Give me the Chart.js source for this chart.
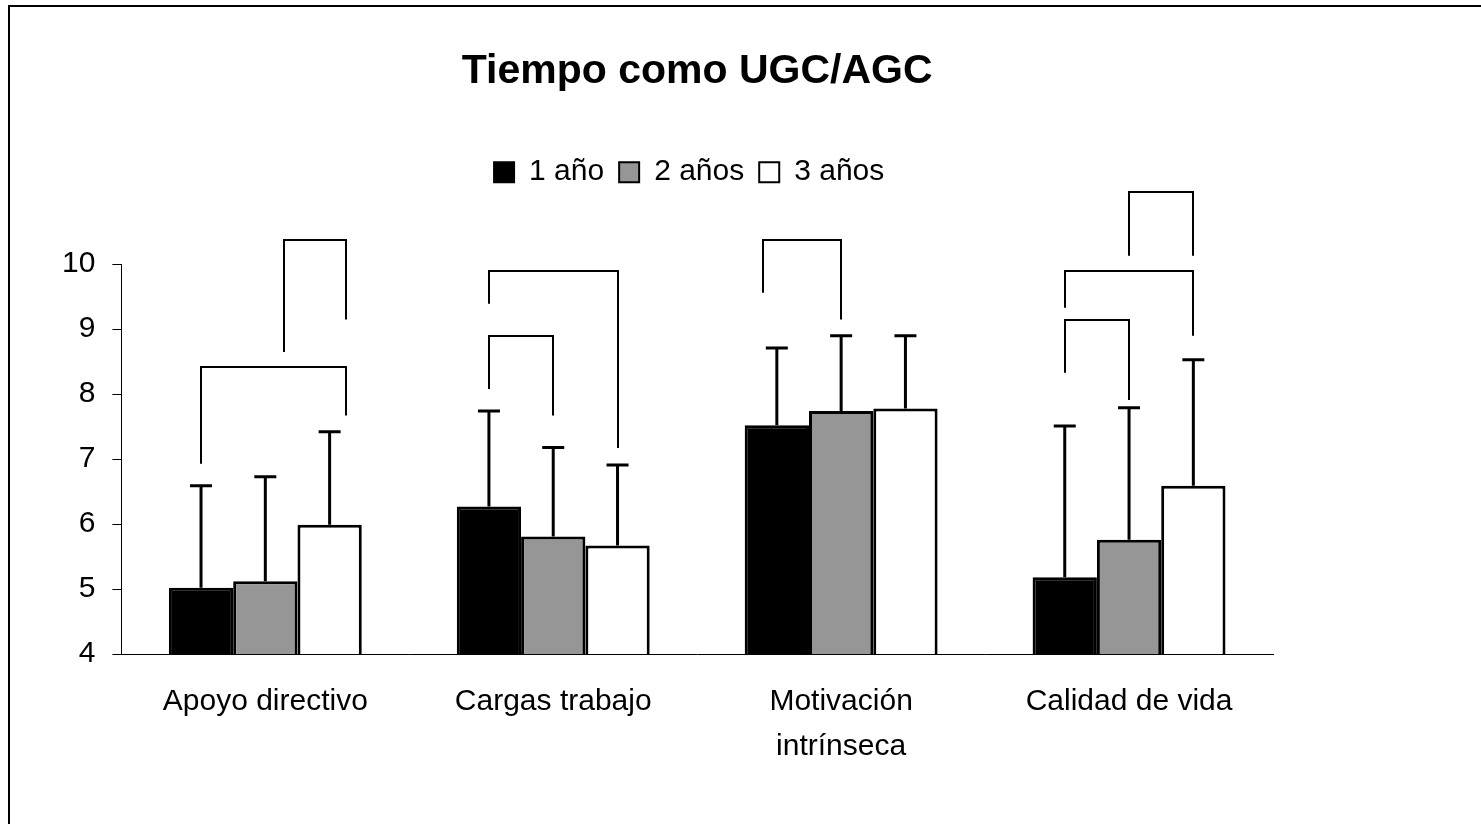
<!DOCTYPE html>
<html lang="es">
  <head>
    <meta charset="utf-8" />
    <title>Tiempo como UGC/AGC</title>
    <script src="https://cdn.jsdelivr.net/npm/chart.js"></script>
    <style>
      html, body { margin: 0; padding: 0; background: #fff; overflow: hidden; }
      #wrap { position: relative; width: 1481px; height: 824px; }
      #frame {
        position: absolute; left: 8px; top: 5px; width: 1600px; height: 1000px;
        border: 2px solid #000; pointer-events: none;
      }
    </style>
  </head>
  <body>
    <div id="wrap">
      <canvas id="myChart"></canvas>
      <div id="frame"></div>
    </div>
    <script>
      const categories = ["Apoyo directivo", "Cargas trabajo", ["Motivación", "intrínseca"], "Calidad de vida"];
      const seriesNames = ["1 año", "2 años", "3 años"];

      // medias
      const ano1 = [5.02, 6.27, 7.52, 5.18];
      const ano2 = [5.12, 5.81, 7.74, 5.76];
      const ano3 = [5.99, 5.67, 7.78, 6.59];

      // desviaciones (solo se dibuja la parte superior)
      const sd1 = [1.57, 1.47, 1.19, 2.33];
      const sd2 = [1.61, 1.37, 1.16, 2.03];
      const sd3 = [1.43, 1.24, 1.12, 1.94];

      const yTicks = [4, 5, 6, 7, 8, 9, 10];

      // corchetes de significacion: [categoria, serie izq, serie der, fin izq, fin der, altura]
      const brackets = [
        [0, 0, 2.26, 6.93, 7.67, 8.42],
        [0, 1.29, 2.26, 8.65, 9.15, 10.38],
        [1, 0, 1, 8.08, 7.67, 8.9],
        [1, 0, 2, 9.39, 7.17, 9.89],
        [2, -0.22, 1, 9.56, 9.15, 10.37],
        [3, 0, 1, 8.33, 7.91, 9.14],
        [3, 0, 2, 9.33, 8.9, 9.89],
        [3, 1, 2, 10.13, 10.13, 11.11],
      ];

      const fills = ["#000000", "#969696", "#ffffff"];
      const sds = [sd1, sd2, sd3];

      Chart.defaults.font.family = 'Arial, "Liberation Sans", sans-serif';
      Chart.defaults.color = "#000";

      // extra space under the legend so the brackets fit above the axis
      const legendGap = {
        id: "legendGap",
        beforeInit(chart) {
          const fit = chart.legend.fit;
          chart.legend.fit = function () {
            fit.call(this);
            this.height += 67;
          };
        },
      };

      // title and legend centred over the plot area, not the whole canvas
      const centerHeader = {
        id: "centerHeader",
        beforeDraw(chart) {
          const a = chart.chartArea;
          chart.titleBlock.left = a.left;
          chart.titleBlock.right = a.right;
          chart.legend.left = a.left - 8;
          chart.legend.right = a.right - 8;
        },
      };

      const errorBars = {
        id: "errorBars",
        afterDatasetsDraw(chart) {
          const ctx = chart.ctx;
          const y = chart.scales.y;
          ctx.save();
          ctx.strokeStyle = "#000";
          ctx.lineWidth = 3;
          chart.data.datasets.forEach((ds, d) => {
            const meta = chart.getDatasetMeta(d);
            meta.data.forEach((bar, i) => {
              const top = y.getPixelForValue(ds.data[i] + sds[d][i]);
              ctx.beginPath();
              ctx.moveTo(bar.x, bar.y);
              ctx.lineTo(bar.x, top);
              ctx.moveTo(bar.x - 11, top);
              ctx.lineTo(bar.x + 11, top);
              ctx.stroke();
            });
          });

          ctx.lineWidth = 2;
          brackets.forEach(([c, a, b, ya, yb, yt]) => {
            const x0 = chart.getDatasetMeta(0).data[c].x;
            const step = chart.getDatasetMeta(1).data[c].x - x0;
            const xa = Math.round(x0 + a * step);
            const xb = Math.round(x0 + b * step);
            const top = Math.round(y.getPixelForValue(yt));
            ctx.beginPath();
            ctx.moveTo(xa, y.getPixelForValue(ya));
            ctx.lineTo(xa, top);
            ctx.lineTo(xb, top);
            ctx.lineTo(xb, y.getPixelForValue(yb));
            ctx.stroke();
          });
          ctx.restore();
        },
      };

      const data = {
        labels: categories,
        datasets: [ano1, ano2, ano3].map((vals, d) => ({
          label: seriesNames[d],
          data: vals,
          backgroundColor: fills[d],
          borderColor: "#000",
          borderWidth: 3,
          borderSkipped: false,
          categoryPercentage: 0.67,
          barPercentage: 1.0,
        })),
      };

      const config = {
        type: "bar",
        data: data,
        options: {
          responsive: true,
          maintainAspectRatio: false,
          animation: false,
          layout: { padding: { left: 45, right: 208, top: 0, bottom: 30 } },
          scales: {
            x: {
              grid: { display: false, drawTicks: false },
              border: { display: true, color: "#000", width: 1 },
              ticks: {
                font: { size: 30, lineHeight: 1.5 },
                padding: 25,
                maxRotation: 0,
                autoSkip: false,
              },
            },
            y: {
              min: 4,
              max: 10,
              afterBuildTicks: (scale) => {
                scale.ticks = yTicks.map((v) => ({ value: v }));
              },
              grid: {
                drawOnChartArea: false,
                drawTicks: true,
                tickLength: 9,
                color: "#000",
              },
              border: { display: true, color: "#000", width: 1 },
              ticks: { font: { size: 30 }, padding: 17 },
            },
          },
          plugins: {
            title: {
              display: true,
              text: "Tiempo como UGC/AGC",
              font: { size: 41, weight: "bold" },
              padding: { top: 47, bottom: 46 },
            },
            legend: {
              position: "top",
              labels: {
                font: { size: 30 },
                boxWidth: 20,
                boxHeight: 20,
                padding: 15,
                generateLabels: (chart) =>
                  chart.data.datasets.map((ds, i) => ({
                    text: ds.label,
                    fillStyle: ds.backgroundColor,
                    strokeStyle: "#000",
                    lineWidth: 2,
                    datasetIndex: i,
                    hidden: false,
                  })),
              },
            },
            tooltip: { enabled: false },
          },
        },
        plugins: [legendGap, centerHeader, errorBars],
      };

      var myChart = new Chart(document.getElementById("myChart"), config);
    </script>
  </body>
</html>
